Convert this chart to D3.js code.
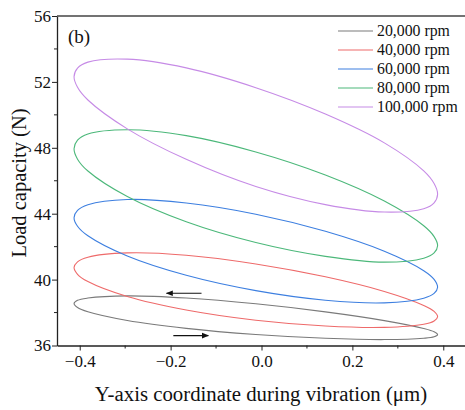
<!DOCTYPE html>
<html>
<head>
<meta charset="utf-8">
<script src="https://cdn.jsdelivr.net/npm/d3@7"></script>
<style>
  body { margin: 0; background: #fff; }
  svg { display: block; font-family: "Liberation Serif", "Times New Roman", serif; }
</style>
</head>
<body>
<svg id="chart" width="465" height="410"></svg>
<script>
/* Daten: Punkte rund um jede Schleife (rechtes Ende, oberer Ast nach links, unterer Ast nach rechts) */
const seriesNames  = ["20,000 rpm", "40,000 rpm", "60,000 rpm", "80,000 rpm", "100,000 rpm"];
const seriesColors = ["#7a7a7a", "#ee6a6a", "#3d7fe0", "#4cb87a", "#c68be6"];

// Verschiebung (um), fuer alle Schleifen gleich
const loopX = [0.3875, 0.3798, 0.357, 0.2703, 0.1406, -0.0125, -0.1656, -0.2953, -0.382, -0.4048,
               -0.4125, -0.4048, -0.382, -0.2953, -0.1656, -0.0125, 0.1406, 0.2703, 0.357, 0.3798];

// Tragkraft (N)
const load20  = [36.66, 36.83, 37.03, 37.51, 38.04, 38.53, 38.88, 39.01, 38.88, 38.74,
                 38.54, 38.31, 38.05, 37.52, 37.04, 36.67, 36.44, 36.36, 36.44, 36.53];
const load40  = [37.75, 38.07, 38.43, 39.28, 40.17, 40.95, 41.48, 41.62, 41.36, 41.08,
                 40.73, 40.32, 39.88, 38.97, 38.15, 37.53, 37.18, 37.10, 37.29, 37.49];
const load60  = [39.54, 40.01, 40.54, 41.72, 42.93, 43.97, 44.65, 44.86, 44.54, 44.20,
                 43.76, 43.24, 42.66, 41.43, 40.26, 39.33, 38.75, 38.59, 38.87, 39.16];
const load80  = [42.06, 42.61, 43.27, 44.77, 46.35, 47.75, 48.74, 49.10, 48.84, 48.46,
                 47.94, 47.31, 46.59, 45.04, 43.51, 42.25, 41.41, 41.06, 41.30, 41.62];
const load100 = [45.18, 45.83, 46.60, 48.30, 50.05, 51.65, 52.85, 53.38, 53.20, 52.84,
                 52.32, 51.67, 50.90, 49.15, 47.30, 45.65, 44.55, 44.10, 44.30, 44.66];

const loads = [load20, load40, load60, load80, load100];

/* Pfeile (Umlaufrichtung) */
const arrowFrom = [-0.132, -0.194];
const arrowTo   = [-0.209, -0.117];
const arrowY    = [39.17, 36.6];

const xTicks = [-0.4, -0.2, 0.0, 0.2, 0.4];
const xMinor = [-0.3, -0.1, 0.1, 0.3];
const yTicks = [36, 40, 44, 48, 52, 56];
const yMinor = [38, 42, 46, 50, 54];

/* Layout */
const plotLeft = 57, plotRight = 466, plotTop = 16, plotBottom = 345.5;
const svg = d3.select("#chart");

const x = d3.scaleLinear().domain([-0.45, 0.45]).range([plotLeft, plotRight]);
const y = d3.scaleLinear().domain([36, 56]).range([plotBottom, plotTop]);

const axisColor = "#222";

// Marker fuer Pfeilspitzen
svg.append("defs").append("marker")
  .attr("id", "head")
  .attr("viewBox", "0 0 10 10")
  .attr("refX", 9).attr("refY", 5)
  .attr("markerWidth", 9).attr("markerHeight", 7)
  .attr("markerUnits", "userSpaceOnUse")
  .attr("orient", "auto")
  .append("path").attr("d", "M0,1 L10,5 L0,9 Z").attr("fill", "#111");

// Schleifen
const line = d3.line()
  .x(d => x(d[0]))
  .y(d => y(d[1]))
  .curve(d3.curveCatmullRomClosed.alpha(0.5));

loads.forEach((ys, i) => {
  const pts = loopX.map((v, k) => [v, ys[k]]);
  svg.append("path")
    .attr("d", line(pts))
    .attr("fill", "none")
    .attr("stroke", seriesColors[i])
    .attr("stroke-width", 1.1);
});

// Pfeile
arrowY.forEach((v, i) => {
  svg.append("line")
    .attr("x1", x(arrowFrom[i])).attr("x2", x(arrowTo[i]))
    .attr("y1", y(v)).attr("y2", y(v))
    .attr("stroke", "#111").attr("stroke-width", 1.1)
    .attr("marker-end", "url(#head)");
});

// Achsen
const fmt = d3.format(".1f");
const xAxis = svg.append("g")
  .attr("transform", "translate(0," + plotBottom + ")")
  .call(d3.axisBottom(x).tickValues(xTicks).tickFormat(fmt).tickSize(5).tickSizeOuter(0));
xAxis.append("g").selectAll("line").data(xMinor).enter().append("line")
  .attr("x1", d => x(d)).attr("x2", d => x(d)).attr("y1", 0).attr("y2", 3);

const yAxis = svg.append("g")
  .attr("transform", "translate(" + plotLeft + ",0)")
  .call(d3.axisLeft(y).tickValues(yTicks).tickSize(5).tickSizeOuter(0));
yAxis.append("g").selectAll("line").data(yMinor).enter().append("line")
  .attr("x1", 0).attr("x2", -3).attr("y1", d => y(d)).attr("y2", d => y(d));

[xAxis, yAxis].forEach(g => {
  g.select(".domain").attr("stroke", axisColor).attr("stroke-width", 1.3);
  g.selectAll("line").attr("stroke", axisColor).attr("stroke-width", 1);
  g.selectAll("text")
    .attr("font-family", "Liberation Serif, Times New Roman, serif")
    .attr("font-size", 17).attr("fill", "#111");
});
xAxis.selectAll(".tick text").attr("dy", "0.95em").attr("y", 5);
yAxis.selectAll(".tick text").attr("x", -6);

// obere Rahmenlinie
svg.append("line")
  .attr("x1", plotLeft).attr("x2", plotRight).attr("y1", plotTop).attr("y2", plotTop)
  .attr("stroke", "#444").attr("stroke-width", 1.5);

// Titel
svg.append("text")
  .attr("x", 261).attr("y", 401)
  .attr("text-anchor", "middle")
  .attr("font-size", 20.8).attr("fill", "#111")
  .text("Y-axis coordinate during vibration (\u03bcm)");

svg.append("text")
  .attr("transform", "translate(26,183) rotate(-90)")
  .attr("text-anchor", "middle")
  .attr("font-size", 20.5).attr("fill", "#111")
  .text("Load capacity (N)");

svg.append("text")
  .attr("x", 68).attr("y", 43)
  .attr("font-size", 19).attr("fill", "#111")
  .text("(b)");

// Legende
const legend = svg.append("g");
seriesNames.forEach((name, i) => {
  const ly = 31 + i * 19;
  legend.append("line")
    .attr("x1", 338).attr("x2", 373).attr("y1", ly).attr("y2", ly)
    .attr("stroke", seriesColors[i]).attr("stroke-width", 1.1);
  legend.append("text")
    .attr("x", 377).attr("y", ly + 5)
    .attr("font-size", 15.8).attr("fill", "#111")
    .text(name);
});
</script>
</body>
</html>
